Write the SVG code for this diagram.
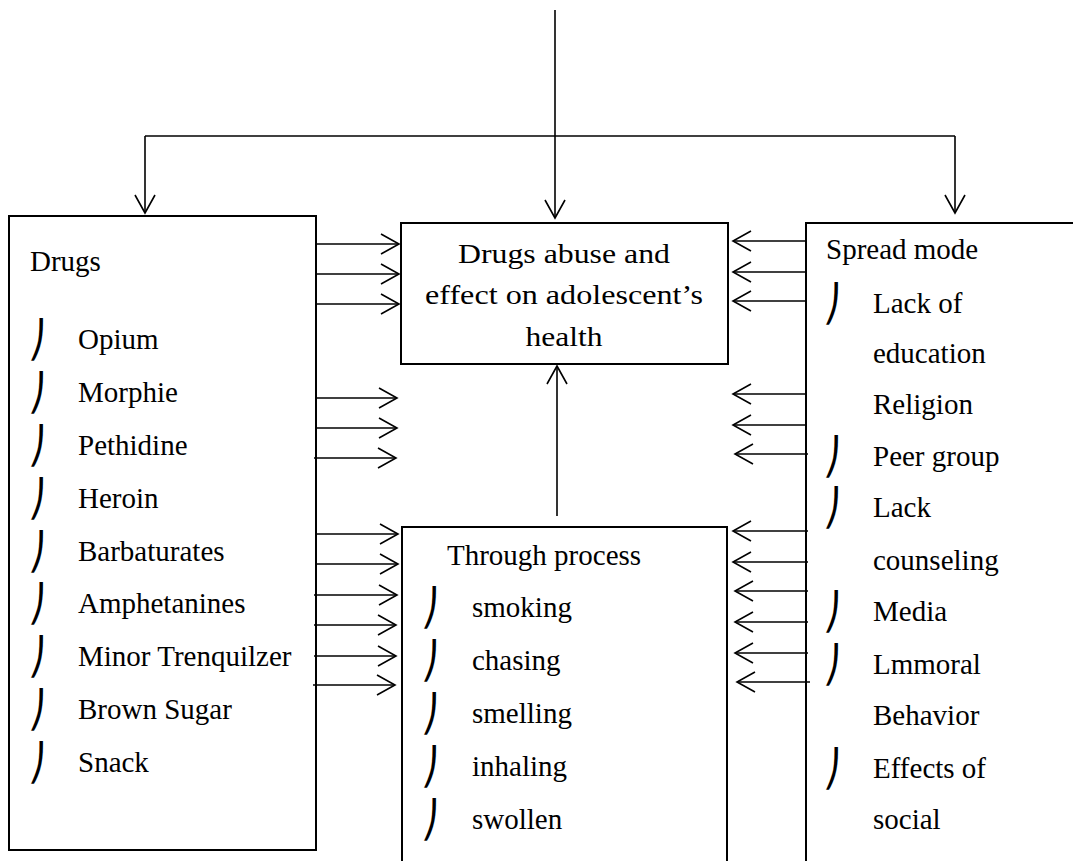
<svg xmlns="http://www.w3.org/2000/svg" width="1073" height="861" viewBox="0 0 1073 861">
<style>
  .box { fill: none; stroke: #000; stroke-width: 2; }
  .con { fill: none; stroke: #000; stroke-width: 1.6; }
  .t { font-family: "Liberation Serif", "Times New Roman", serif; font-size: 29px; fill: #000; }
  .c { font-family: "Liberation Serif", "Times New Roman", serif; font-size: 28px; fill: #000; text-anchor: middle; }
  .b { font-family: "DejaVu Sans", sans-serif; font-size: 36px; font-weight: 200; fill: #000; }
</style>
<defs>
  <marker id="arr" markerUnits="userSpaceOnUse" markerWidth="22" markerHeight="24" refX="19" refY="11" orient="auto">
    <path d="M1,1 L19,11 L1,21" fill="none" stroke="#000" stroke-width="1.6"/>
  </marker>
</defs>
<rect x="0" y="0" width="1073" height="861" fill="#fff"/>

<g id="connectors">
  <path class="con" d="M555,10 V218" marker-end="url(#arr)"/>
  <path class="con" d="M145,136 H955"/>
  <path class="con" d="M145,136 V213" marker-end="url(#arr)"/>
  <path class="con" d="M955,136 V213" marker-end="url(#arr)"/>
  <path class="con" d="M557,516 V366" marker-end="url(#arr)"/>
  <path class="con" d="M316,244 H399" marker-end="url(#arr)"/>
  <path class="con" d="M316,274 H399" marker-end="url(#arr)"/>
  <path class="con" d="M316,304 H399" marker-end="url(#arr)"/>
  <path class="con" d="M316,398 H397" marker-end="url(#arr)"/>
  <path class="con" d="M316,428 H397" marker-end="url(#arr)"/>
  <path class="con" d="M314,458 H396" marker-end="url(#arr)"/>
  <path class="con" d="M316,534 H398" marker-end="url(#arr)"/>
  <path class="con" d="M316,564 H398" marker-end="url(#arr)"/>
  <path class="con" d="M314,595 H397" marker-end="url(#arr)"/>
  <path class="con" d="M314,625 H396" marker-end="url(#arr)"/>
  <path class="con" d="M314,656 H396" marker-end="url(#arr)"/>
  <path class="con" d="M313,685 H395" marker-end="url(#arr)"/>
  <path class="con" d="M806,241 H733" marker-end="url(#arr)"/>
  <path class="con" d="M806,272 H733" marker-end="url(#arr)"/>
  <path class="con" d="M806,301 H733" marker-end="url(#arr)"/>
  <path class="con" d="M807,394 H733" marker-end="url(#arr)"/>
  <path class="con" d="M807,425 H733" marker-end="url(#arr)"/>
  <path class="con" d="M808,454 H735" marker-end="url(#arr)"/>
  <path class="con" d="M808,531 H733" marker-end="url(#arr)"/>
  <path class="con" d="M808,562 H733" marker-end="url(#arr)"/>
  <path class="con" d="M808,591 H735" marker-end="url(#arr)"/>
  <path class="con" d="M808,622 H735" marker-end="url(#arr)"/>
  <path class="con" d="M808,653 H735" marker-end="url(#arr)"/>
  <path class="con" d="M810,682 H737" marker-end="url(#arr)"/>
</g>

<g id="drugs">
  <rect class="box" x="9" y="216" width="307" height="634"/>
  <text class="t" x="30" y="271">Drugs</text>
  <text class="b" x="28" y="352">⎠</text><text class="t" x="78" y="349">Opium</text>
  <text class="b" x="28" y="405">⎠</text><text class="t" x="78" y="402">Morphie</text>
  <text class="b" x="28" y="458">⎠</text><text class="t" x="78" y="455">Pethidine</text>
  <text class="b" x="28" y="511">⎠</text><text class="t" x="78" y="508">Heroin</text>
  <text class="b" x="28" y="564">⎠</text><text class="t" x="78" y="561">Barbaturates</text>
  <text class="b" x="28" y="616">⎠</text><text class="t" x="78" y="613">Amphetanines</text>
  <text class="b" x="28" y="669">⎠</text><text class="t" x="78" y="666">Minor Trenquilzer</text>
  <text class="b" x="28" y="722">⎠</text><text class="t" x="78" y="719">Brown Sugar</text>
  <text class="b" x="28" y="775">⎠</text><text class="t" x="78" y="772">Snack</text>
</g>

<g id="center">
  <rect class="box" x="401" y="223" width="327" height="141"/>
  <text class="c" x="564" y="263" textLength="212" lengthAdjust="spacingAndGlyphs">Drugs abuse and</text>
  <text class="c" x="564" y="304" textLength="278" lengthAdjust="spacingAndGlyphs">effect on adolescent’s</text>
  <text class="c" x="564" y="346" textLength="77" lengthAdjust="spacingAndGlyphs">health</text>
</g>

<g id="process">
  <path class="box" d="M402,862 V527 H727 V862"/>
  <text class="t" x="447" y="565">Through process</text>
  <text class="b" x="421" y="620">⎠</text><text class="t" x="472" y="617">smoking</text>
  <text class="b" x="421" y="673">⎠</text><text class="t" x="472" y="670">chasing</text>
  <text class="b" x="421" y="726">⎠</text><text class="t" x="472" y="723">smelling</text>
  <text class="b" x="421" y="779">⎠</text><text class="t" x="472" y="776">inhaling</text>
  <text class="b" x="421" y="832">⎠</text><text class="t" x="472" y="829">swollen</text>
</g>

<g id="spread">
  <path class="box" d="M806,862 V223 H1074"/>
  <text class="t" x="826" y="259">Spread mode</text>
  <text class="b" x="823" y="316">⎠</text><text class="t" x="873" y="313">Lack of</text>
  <text class="t" x="873" y="363">education</text>
  <text class="t" x="873" y="414">Religion</text>
  <text class="b" x="823" y="469">⎠</text><text class="t" x="873" y="466">Peer group</text>
  <text class="b" x="823" y="520">⎠</text><text class="t" x="873" y="517">Lack</text>
  <text class="t" x="873" y="570">counseling</text>
  <text class="b" x="823" y="624">⎠</text><text class="t" x="873" y="621">Media</text>
  <text class="b" x="823" y="677">⎠</text><text class="t" x="873" y="674">Lmmoral</text>
  <text class="t" x="873" y="725">Behavior</text>
  <text class="b" x="823" y="781">⎠</text><text class="t" x="873" y="778">Effects of</text>
  <text class="t" x="873" y="829">social</text>
</g>
</svg>
